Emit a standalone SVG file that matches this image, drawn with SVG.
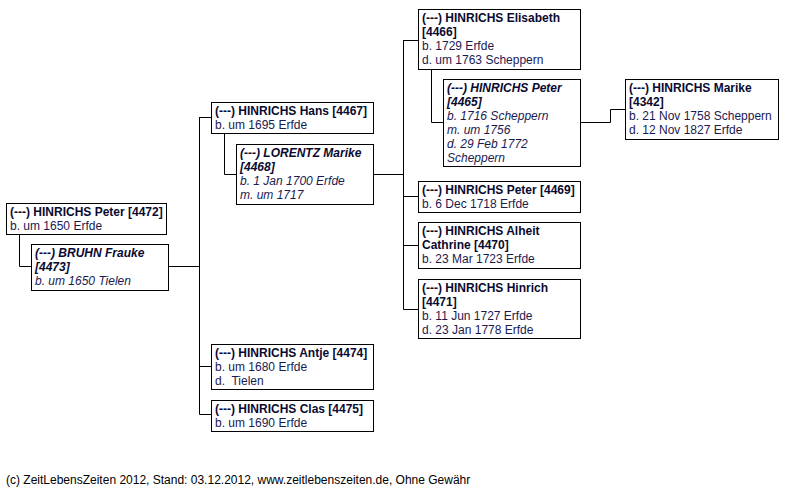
<svg xmlns="http://www.w3.org/2000/svg" width="800" height="487" viewBox="0 0 800 487">
<style>
rect{fill:#fff;stroke:#000;stroke-width:1}
text{font-family:"Liberation Sans",Arial,sans-serif;font-size:12px;fill:#1a1a50}
.n{font-weight:bold;fill:#0a0a30}
.i{font-style:italic}
#conn path{fill:none;stroke:#000;stroke-width:1}
</style>
<rect x="0" y="0" width="800" height="487" style="stroke:none"/>
<g id="conn">
<path d="M19.5 234V266.5H31"/>
<path d="M169 266.5H199.5M199.5 117V414.5M199.5 117.5H211M199.5 366.5H211M199.5 414.5H211"/>
<path d="M224.5 134V174.5H236"/>
<path d="M373 174.5H403.5M403.5 40V309.5M403.5 40.5H418M403.5 196.5H418M403.5 245.5H418M403.5 309.5H418"/>
<path d="M431.5 70V122.5H443"/>
<path d="M580 122.5H610.5V109.5H625"/>
</g>
<g id="n4472"><rect x="6.5" y="203.5" width="160" height="31"/>
<text x="10" y="216" class="n">(---) HINRICHS Peter [4472]</text>
<text x="10" y="230">b. um 1650 Erfde</text></g>
<g id="n4473"><rect x="31.5" y="244.5" width="137" height="46"/>
<text x="35" y="257" class="n i">(---) BRUHN Frauke</text>
<text x="35" y="271" class="n i">[4473]</text>
<text x="35" y="285" class="i">b. um 1650 Tielen</text></g>
<g id="n4467"><rect x="211.5" y="102.5" width="162" height="31"/>
<text x="215" y="115" class="n">(---) HINRICHS Hans [4467]</text>
<text x="215" y="129">b. um 1695 Erfde</text></g>
<g id="n4468"><rect x="236.5" y="144.5" width="137" height="60"/>
<text x="240" y="157" class="n i">(---) LORENTZ Marike</text>
<text x="240" y="171" class="n i">[4468]</text>
<text x="240" y="185" class="i">b. 1 Jan 1700 Erfde</text>
<text x="240" y="199" class="i">m. um 1717</text></g>
<g id="n4474"><rect x="211.5" y="344.5" width="162" height="45"/>
<text x="215" y="357" class="n">(---) HINRICHS Antje [4474]</text>
<text x="215" y="371">b. um 1680 Erfde</text>
<text x="215" y="385" xml:space="preserve">d.  Tielen</text></g>
<g id="n4475"><rect x="211.5" y="400.5" width="162" height="31"/>
<text x="215" y="413" class="n">(---) HINRICHS Clas [4475]</text>
<text x="215" y="427">b. um 1690 Erfde</text></g>
<g id="n4466"><rect x="418.5" y="9.5" width="162" height="60"/>
<text x="422" y="22" class="n">(---) HINRICHS Elisabeth</text>
<text x="422" y="36" class="n">[4466]</text>
<text x="422" y="50">b. 1729 Erfde</text>
<text x="422" y="64">d. um 1763 Scheppern</text></g>
<g id="n4465"><rect x="443.5" y="79.5" width="137" height="87"/>
<text x="447" y="92" class="n i">(---) HINRICHS Peter</text>
<text x="447" y="106" class="n i">[4465]</text>
<text x="447" y="120" class="i">b. 1716 Scheppern</text>
<text x="447" y="134" class="i">m. um 1756</text>
<text x="447" y="148" class="i">d. 29 Feb 1772</text>
<text x="447" y="162" class="i">Scheppern</text></g>
<g id="n4342"><rect x="625.5" y="79.5" width="153" height="60"/>
<text x="629" y="92" class="n">(---) HINRICHS Marike</text>
<text x="629" y="106" class="n">[4342]</text>
<text x="629" y="120">b. 21 Nov 1758 Scheppern</text>
<text x="629" y="134">d. 12 Nov 1827 Erfde</text></g>
<g id="n4469"><rect x="418.5" y="181.5" width="162" height="31"/>
<text x="422" y="194" class="n">(---) HINRICHS Peter [4469]</text>
<text x="422" y="208">b. 6 Dec 1718 Erfde</text></g>
<g id="n4470"><rect x="418.5" y="222.5" width="162" height="46"/>
<text x="422" y="235" class="n">(---) HINRICHS Alheit</text>
<text x="422" y="249" class="n">Cathrine [4470]</text>
<text x="422" y="263">b. 23 Mar 1723 Erfde</text></g>
<g id="n4471"><rect x="418.5" y="279.5" width="162" height="59"/>
<text x="422" y="292" class="n">(---) HINRICHS Hinrich</text>
<text x="422" y="306" class="n">[4471]</text>
<text x="422" y="320">b. 11 Jun 1727 Erfde</text>
<text x="422" y="334">d. 23 Jan 1778 Erfde</text></g>
<text x="6" y="484" style="fill:#000">(c) ZeitLebensZeiten 2012, Stand: 03.12.2012, www.zeitlebenszeiten.de, Ohne Gewähr</text>
</svg>
